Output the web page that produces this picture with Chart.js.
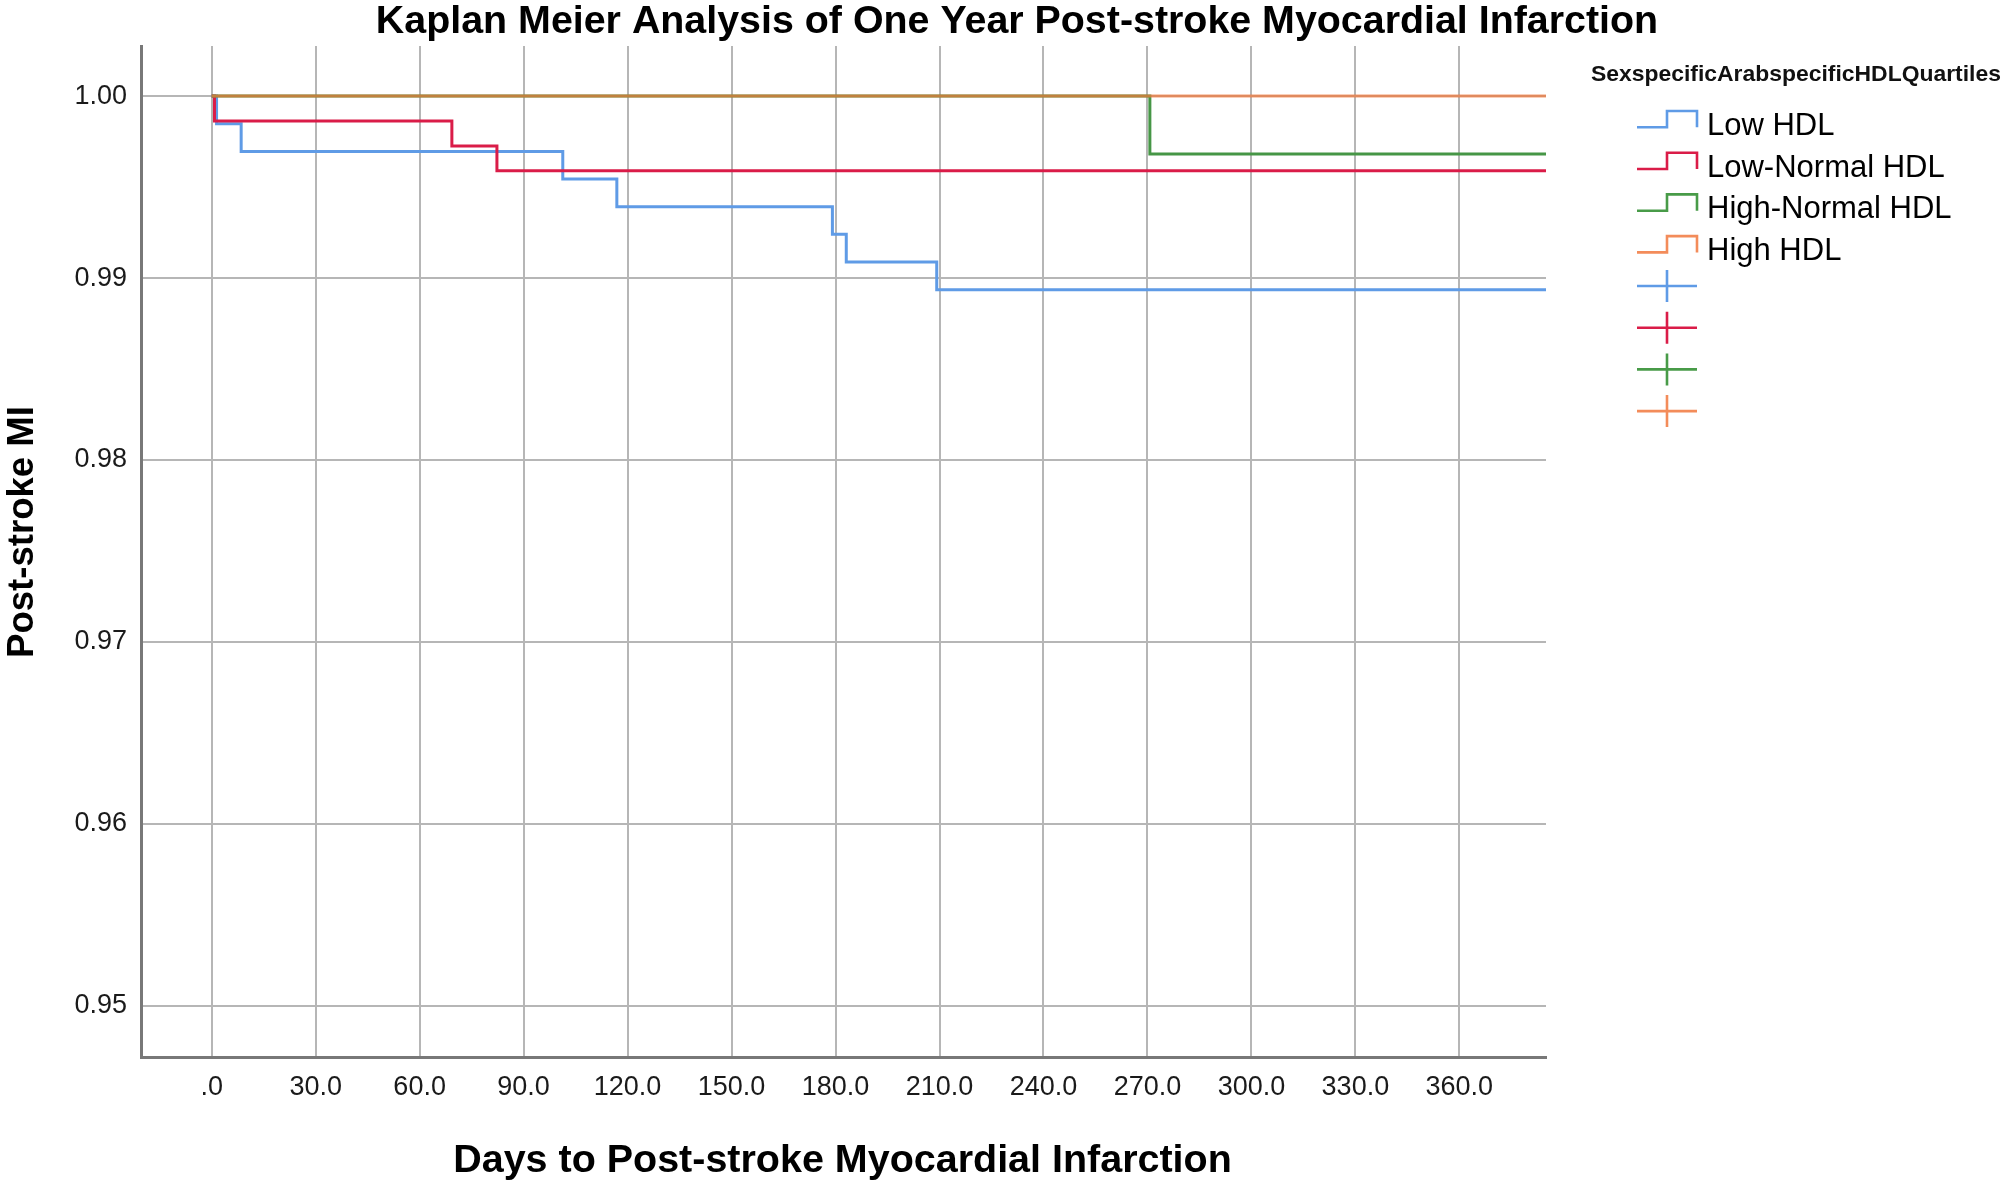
<!DOCTYPE html>
<html>
<head>
<meta charset="utf-8">
<script src="https://cdn.jsdelivr.net/npm/chart.js@4.4.1/dist/chart.umd.min.js"></script>
<style>
html,body{margin:0;padding:0;background:#ffffff;}
#wrap{width:2006px;height:1184px;position:relative;}
canvas{display:block;}
</style>
</head>
<body>
<div id="wrap"><canvas id="c" width="2006" height="1184"></canvas></div>
<script>
// ---------- data ----------
const chartTitle = 'Kaplan Meier Analysis of One Year Post-stroke Myocardial Infarction';
const xAxisTitle = 'Days to Post-stroke Myocardial Infarction';
const yAxisTitle = 'Post-stroke MI';
const legendTitle = 'SexspecificArabspecificHDLQuartiles';
const groupNames = ['Low HDL', 'Low-Normal HDL', 'High-Normal HDL', 'High HDL'];

const xTickValues = [0, 30, 60, 90, 120, 150, 180, 210, 240, 270, 300, 330, 360];
const xTickLabels = ['.0', '30.0', '60.0', '90.0', '120.0', '150.0', '180.0', '210.0', '240.0', '270.0', '300.0', '330.0', '360.0'];
const yTickValues = [0.95, 0.96, 0.97, 0.98, 0.99, 1.00];
const yTickLabels = ['0.95', '0.96', '0.97', '0.98', '0.99', '1.00'];

const lowHdlDays = [0, 1.4, 8.5, 101.3, 116.9, 179.1, 183.1, 209.2, 385];
const lowHdlSurv = [1.0, 0.99848, 0.99696, 0.99544, 0.99392, 0.99240, 0.99088, 0.98936, 0.98936];
const lowNormalDays = [0, 0.8, 69.3, 82.3, 385];
const lowNormalSurv = [1.0, 0.99863, 0.99726, 0.99589, 0.99589];
const highNormalDays = [0, 270.7, 385];
const highNormalSurv = [1.0, 0.99681, 0.99681];
const highHdlDays = [0, 385];
const highHdlSurv = [1.0, 1.0];

// ---------- styles ----------
const seriesColors = ['rgb(95,155,230)', 'rgb(218,28,72)', 'rgb(70,150,70)', 'rgba(240,120,60,0.72)'];
const legendColors = ['rgb(95,155,230)', 'rgb(218,28,72)', 'rgb(72,155,72)', 'rgb(243,140,90)'];
const FONT = "'Liberation Sans', Arial, Helvetica, sans-serif";

function pts(xs, ys) { return xs.map((x, i) => ({ x: x, y: ys[i] })); }

const seriesDays = [lowHdlDays, lowNormalDays, highNormalDays, highHdlDays];
const seriesSurv = [lowHdlSurv, lowNormalSurv, highNormalSurv, highHdlSurv];
const drawOrder = [4, 3, 2, 1];

const datasets = groupNames.map((name, i) => ({
  label: name,
  data: pts(seriesDays[i], seriesSurv[i]),
  borderColor: seriesColors[i],
  backgroundColor: seriesColors[i],
  borderWidth: 3,
  stepped: 'before',
  pointRadius: 0,
  fill: false,
  order: drawOrder[i]
}));

function fitFont(ctx, text, weight, target, base) {
  ctx.font = weight + ' ' + base + 'px ' + FONT;
  const w = ctx.measureText(text).width;
  return base * target / w;
}

const textPlugin = {
  id: 'textPlugin',
  afterDraw(chart) {
    const ctx = chart.ctx;
    ctx.save();
    ctx.fillStyle = '#000';
    ctx.textBaseline = 'alphabetic';

    // main title
    let s = fitFont(ctx, chartTitle, 'bold', 1283, 36);
    ctx.font = 'bold ' + s + 'px ' + FONT;
    ctx.textAlign = 'center';
    ctx.fillText(chartTitle, 1017, 33);

    // x axis title
    s = fitFont(ctx, xAxisTitle, 'bold', 779, 38);
    ctx.font = 'bold ' + s + 'px ' + FONT;
    ctx.fillText(xAxisTitle, 842.5, 1172);

    // y axis title
    s = fitFont(ctx, yAxisTitle, 'bold', 252, 36);
    ctx.font = 'bold ' + s + 'px ' + FONT;
    ctx.save();
    ctx.translate(33, 532);
    ctx.rotate(-Math.PI / 2);
    ctx.fillText(yAxisTitle, 0, 0);
    ctx.restore();

    // legend title
    s = fitFont(ctx, legendTitle, 'bold', 410, 22);
    ctx.font = 'bold ' + s + 'px ' + FONT;
    ctx.textAlign = 'left';
    ctx.fillStyle = '#111';
    ctx.fillText(legendTitle, 1591, 81);

    // legend step items
    const rowH = 41.7;
    ctx.lineWidth = 2.6;
    ctx.lineJoin = 'miter';
    for (let i = 0; i < groupNames.length; i++) {
      const low = 127.3 + i * rowH;
      const high = 111 + i * rowH;
      ctx.strokeStyle = legendColors[i];
      ctx.beginPath();
      ctx.moveTo(1637, low);
      ctx.lineTo(1667, low);
      ctx.lineTo(1667, high);
      ctx.lineTo(1697, high);
      ctx.lineTo(1697, low);
      ctx.stroke();
      ctx.fillStyle = '#000';
      ctx.font = '31px ' + FONT;
      ctx.fillText(groupNames[i], 1707, 135 + i * rowH);
    }
    // legend censor crosses
    for (let i = 0; i < groupNames.length; i++) {
      const cy = 286 + i * rowH;
      ctx.strokeStyle = legendColors[i];
      ctx.beginPath();
      ctx.moveTo(1637, cy);
      ctx.lineTo(1697, cy);
      ctx.moveTo(1667, cy - 16);
      ctx.lineTo(1667, cy + 16);
      ctx.stroke();
    }
    ctx.restore();
  }
};

new Chart(document.getElementById('c'), {
  type: 'line',
  data: { datasets: datasets },
  options: {
    responsive: false,
    animation: false,
    events: [],
    layout: { padding: { top: 46, right: 460, left: 0, bottom: 0 } },
    plugins: { legend: { display: false }, title: { display: false }, tooltip: { enabled: false } },
    scales: {
      x: {
        type: 'linear',
        min: -20.4,
        max: 385,
        afterBuildTicks: (sc) => { sc.ticks = xTickValues.map(v => ({ value: v })); },
        afterFit: (sc) => { sc.height = 127; },
        ticks: {
          autoSkip: false,
          maxRotation: 0,
          padding: 14,
          color: '#1a1a1a',
          font: { family: FONT, size: 27 },
          callback: (v) => { const k = xTickValues.indexOf(v); return k >= 0 ? xTickLabels[k] : ''; }
        },
        grid: { color: 'rgb(182,182,182)', lineWidth: 2, drawTicks: false },
        border: { display: true, color: 'rgb(120,120,120)', width: 3 }
      },
      y: {
        type: 'linear',
        min: 0.9472,
        max: 1.00275,
        afterBuildTicks: (sc) => { sc.ticks = yTickValues.map(v => ({ value: v })); },
        afterFit: (sc) => { sc.width = 141; },
        ticks: {
          autoSkip: false,
          padding: 14,
          color: '#1a1a1a',
          font: { family: FONT, size: 27 },
          callback: (v) => { const k = yTickValues.findIndex(t => Math.abs(t - v) < 1e-9); return k >= 0 ? yTickLabels[k] : ''; }
        },
        grid: { color: 'rgb(182,182,182)', lineWidth: 2, drawTicks: false },
        border: { display: true, color: 'rgb(120,120,120)', width: 3 }
      }
    }
  },
  plugins: [textPlugin]
});
</script>
</body>
</html>
